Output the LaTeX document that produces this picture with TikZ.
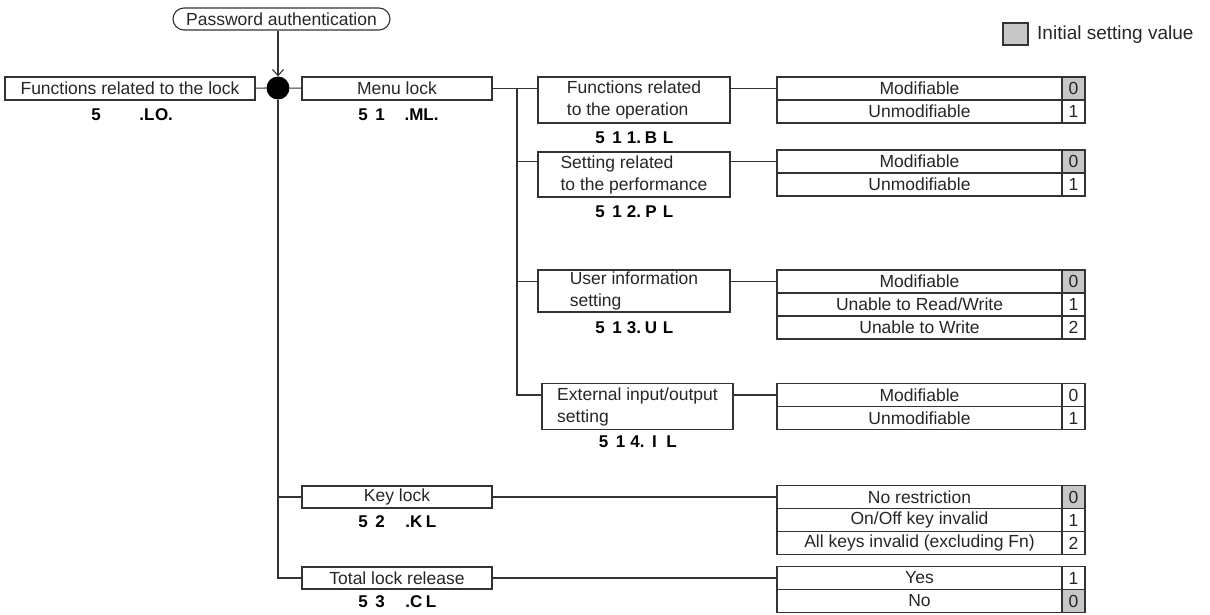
\documentclass[tikz,border=0pt]{standalone}
\usepackage{fontspec}
\setmainfont{Liberation Sans}
\usetikzlibrary{arrows.meta,positioning}
\newcommand\boxfont{\fontsize{17.5}{22}\selectfont}
\newcommand\codefont{\bfseries\fontsize{17}{19}\selectfont}
\newcommand\cell[1]{\makebox[17pt]{#1}}
\newcommand\lcd[5]{\cell{#1}\cell{#2}\cell{#3}\cell{#4}\cell{#5}}

\begin{document}
\begin{tikzpicture}[x=1pt,y=-1pt,
 box/.style={draw=black!80,line width=1.1pt,text=black!85,font=\boxfont,inner sep=0pt,minimum height=23pt},
 code/.style={font=\codefont,inner sep=0pt},
 opt/.style={box,minimum width=285pt},
 val/.style={box,minimum width=23pt},
 link/.style={black!80,line width=1.1pt}]
\useasboundingbox (0,0) rectangle (1210,614);
% legend
\node[val,fill=black!22,minimum width=25pt,minimum height=22pt] (legbox) at (1015.5,34) {};
\node[font=\fontsize{19}{22}\selectfont,text=black!85,anchor=west,inner sep=0pt] (leg) at (1037,35) {Initial setting value};
% password and hub
\node[box,rounded corners=11pt,minimum width=217pt,minimum height=22pt] (pwd) at (281.5,19) {Password authentication};
\node[circle,fill=black,minimum size=23pt,inner sep=0pt] (hub) at (278,88) {};
\draw[link,-{Straight Barb[length=6pt,width=11pt]}] (pwd.south -| hub) -- (hub.north);
% first level
\node[box,minimum width=250pt] (lock) at (130,88.5) {Functions related to the lock};
\node[code] (lockc) at (130,115) {\lcd{5}{}{}{.L}{O.}};
\node[box,minimum width=190pt] (menu) at (397,88.5) {Menu lock};
\node[code] (menuc) at (397,115) {\lcd{5}{1}{}{.M}{L.}};
\node[box,minimum width=190pt,minimum height=22pt] (key) at (397,497) {Key lock};
\node[code] (keyc) at (397,522) {\lcd{5}{2}{}{.K}{L}};
\node[box,minimum width=190pt,minimum height=22pt] (total) at (397,578) {Total lock release};
\node[code] (totalc) at (397,602) {\lcd{5}{3}{}{.C}{L}};
% menu lock items
\node[box,minimum width=192pt,minimum height=46pt,align=left] (opr) at (634,100) {Functions related\\to the operation};
\node[code] (oprc) at (634,138) {\lcd{5}{1}{1.}{B}{L}};
\node[box,minimum width=192pt,minimum height=45pt,align=left] (perf) at (634,174.5) {Setting related\\to the performance};
\node[code] (perfc) at (634,212) {\lcd{5}{1}{2.}{P}{L}};
\node[box,minimum width=192pt,minimum height=42pt,align=left] (user) at (634,291) {User information\\setting};
\node[code] (userc) at (634,328) {\lcd{5}{1}{3.}{U}{L}};
\node[box,minimum width=191pt,minimum height=46pt,align=left] (ext) at (637.5,406.5) {External input/output\\setting};
\node[code] (extc) at (637.5,442) {\lcd{5}{1}{4.}{I}{L}};
% option tables
\foreach \n/\y/\t/\v/\f in {opr0/88.5/Modifiable/0/black!22,opr1/111.5/Unmodifiable/1/white,
 perf0/161.5/Modifiable/0/black!22,perf1/184.5/Unmodifiable/1/white,
 user0/281.5/Modifiable/0/black!22,user1/304.5/{Unable to Read/Write}/1/white,user2/327.5/Unable to Write/2/white,
 ext0/395/Modifiable/0/white,ext1/418/Unmodifiable/1/white,
 key0/497/No restriction/0/black!22,key1/520/{On/Off key invalid}/1/white,key2/543/All keys invalid (excluding Fn)/2/white,
 total0/578/Yes/1/white,total1/601/No/0/black!22}{
 \node[opt] (\n) at (919.5,\y) {\t};
 \node[val,fill=\f] (\n-v) at (1073.5,\y) {\v};}
% connectors
\draw[link] (lock) -- (hub);
\draw[link] (hub) -- (menu);
\draw[link] (hub) |- (key);
\draw[link] (hub) |- (total);
\coordinate (split) at (517,88.5);
\draw[link] (menu) -- (split);
\draw[link] (split) |- (opr.west |- opr0);
\draw[link] (split) |- (perf.west |- perf0);
\draw[link] (split) |- (user.west |- user0);
\draw[link] (split) |- (ext.west |- ext0);
\draw[link] (opr.east |- opr0) -- (opr0);
\draw[link] (perf.east |- perf0) -- (perf0);
\draw[link] (user.east |- user0) -- (user0);
\draw[link] (ext.east |- ext0) -- (ext0);
\draw[link] (key) -- (key0);
\draw[link] (total) -- (total0);
\end{tikzpicture}
\end{document}
